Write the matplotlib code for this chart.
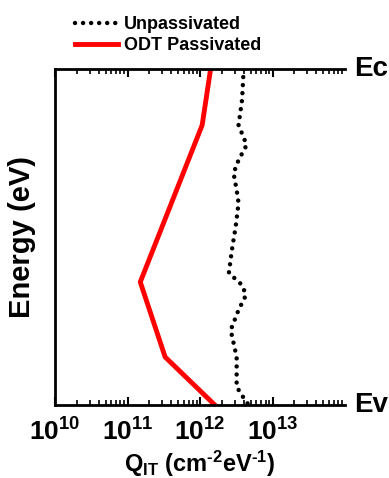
import matplotlib
matplotlib.use("Agg")
import matplotlib.pyplot as plt
import numpy as np

plt.rcParams['font.family'] = ['Liberation Sans', 'DejaVu Sans']
plt.rcParams['font.weight'] = 'bold'
plt.rcParams['mathtext.fontset'] = 'custom'
plt.rcParams['mathtext.rm'] = 'Liberation Sans:bold'
plt.rcParams['mathtext.it'] = 'Liberation Sans:bold'
plt.rcParams['mathtext.bf'] = 'Liberation Sans:bold'

# datos (energia normalizada Ev=0 -> Ec=1)
e_unpass = [1.0, 0.908, 0.833, 0.774, 0.729, 0.690, 0.640, 0.601, 0.530, 0.461,
            0.393, 0.357, 0.327, 0.283, 0.223, 0.143, 0.054, 0.021, 0.0]
q_unpass = [4.0e12, 3.8e12, 3.4e12, 4.4e12, 3.4e12, 2.9e12, 3.2e12, 3.4e12, 3.1e12, 2.75e12,
            2.5e12, 3.8e12, 4.3e12, 3.4e12, 2.65e12, 3.2e12, 3.2e12, 4.0e12, 4.7e12]

e_odt = [1.0, 0.833, 0.366, 0.143, 0.0]
q_odt = [1.4e12, 1.07e12, 1.5e11, 3.3e11, 1.6e12]

xticks = [1e10, 1e11, 1e12, 1e13]
xticklabels = [r'$10^{10}$', r'$10^{11}$', r'$10^{12}$', r'$10^{13}$']

fig = plt.figure(figsize=(3.89, 4.78), dpi=100)
ax = fig.add_axes([0.1414, 0.1527, 0.887 - 0.1414, 0.8556 - 0.1527])

ax.plot(q_unpass, e_unpass, color='black', lw=3.2, linestyle=(0, (0.01, 1.8)),
        dash_capstyle='round', label='Unpassivated')
ax.plot(q_odt, e_odt, color='red', lw=3.5, label='ODT Passivated')

ax.set_xscale('log')
ax.set_xlim(1e10, 1e14)
ax.set_ylim(0, 1)
ax.set_xticks(xticks)
ax.set_xticklabels(xticklabels, fontsize=19)
ax.set_yticks([])
ax.spines['right'].set_visible(False)
for s in ['left', 'top', 'bottom']:
    ax.spines[s].set_linewidth(2)
ax.tick_params(axis='x', which='major', direction='in', top=True, length=6, width=1.5, pad=10)
ax.tick_params(axis='x', which='minor', direction='in', top=True, length=3.5, width=1.2)

ax.set_xlabel(r'Q$_{\mathrm{IT}}$ (cm$^{\text{-}2}$eV$^{\text{-}1}$)', fontsize=17,
              fontweight='bold', labelpad=2)
ax.set_ylabel('Energy (eV)', fontsize=21, fontweight='bold', labelpad=14)

ax.text(1.03, 1.0, 'Ec', transform=ax.transAxes, fontsize=20, fontweight='bold', va='center', ha='left')
ax.text(1.03, 0.0, 'Ev', transform=ax.transAxes, fontsize=20, fontweight='bold', va='center', ha='left')

fig.legend(loc='upper left', bbox_to_anchor=(0.16, 0.993), frameon=False, fontsize=13,
           handlelength=2.4, handletextpad=0.3, labelspacing=0.25, borderaxespad=0.3)

fig.savefig('out.png', dpi=100)
